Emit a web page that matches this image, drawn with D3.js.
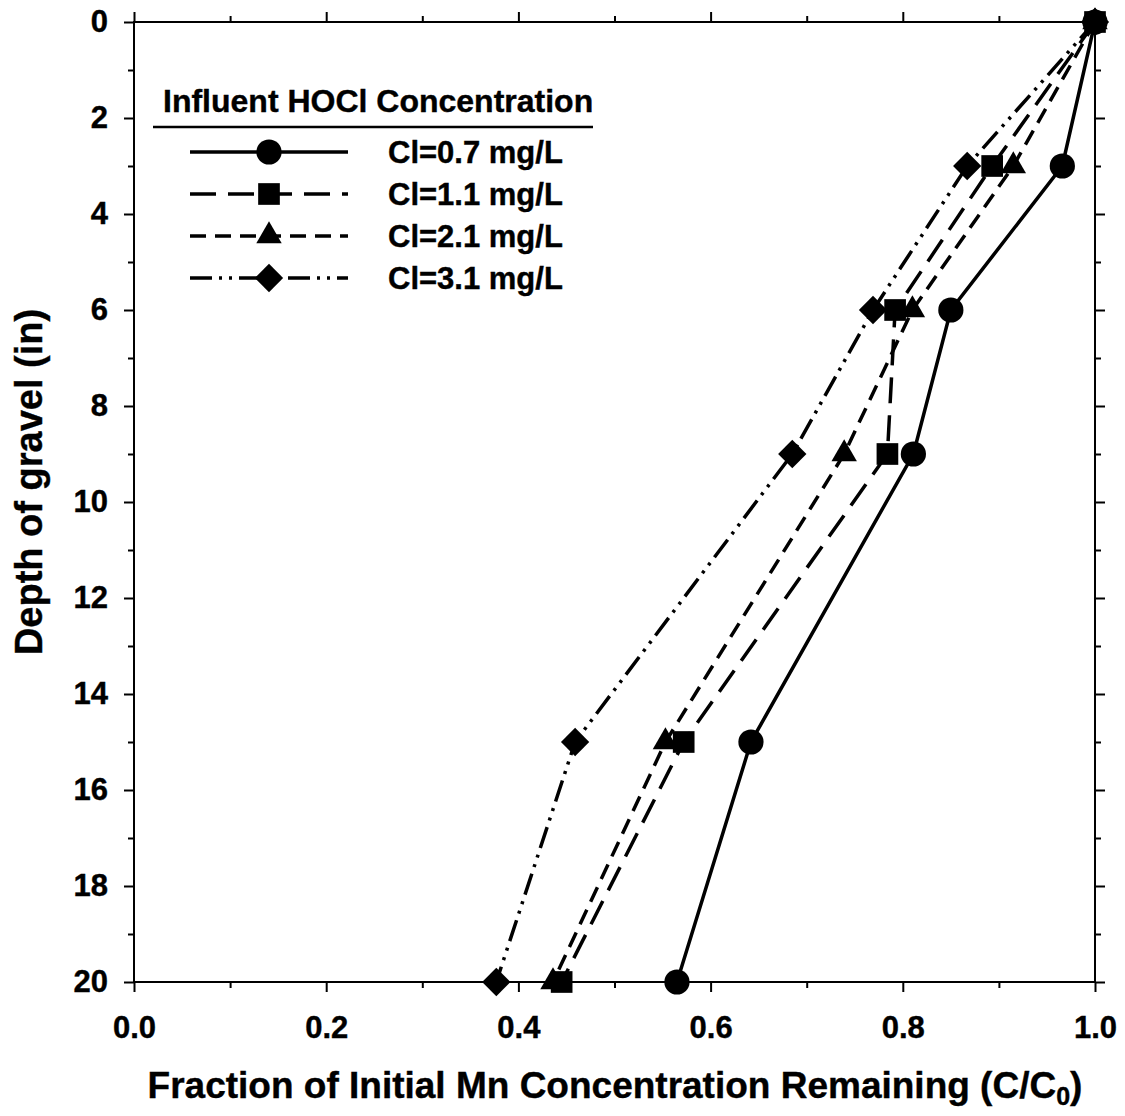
<!DOCTYPE html>
<html>
<head>
<meta charset="utf-8">
<script src="https://cdn.jsdelivr.net/npm/d3@7"></script>
<style>
  body { margin: 0; background: #fff; }
  svg text { font-family: "Liberation Sans", Arial, sans-serif; font-weight: bold; fill: #000; stroke: #000; stroke-width: 0.4; }
</style>
</head>
<body>
<div id="chart"></div>
<script>
// depth of gravel (in) and fraction remaining C/C0 for each chlorine dose
const depths = [0, 3, 6, 9, 15, 20];
const cl07 = [1.0, 0.966, 0.850, 0.811, 0.642, 0.565];
const cl11 = [1.0, 0.893, 0.792, 0.784, 0.572, 0.445];
const cl21 = [1.0, 0.915, 0.810, 0.739, 0.553, 0.436];
const cl31 = [1.0, 0.867, 0.769, 0.685, 0.459, 0.377];
const seriesLabels = ['Cl=0.7 mg/L', 'Cl=1.1 mg/L', 'Cl=2.1 mg/L', 'Cl=3.1 mg/L'];
const xMajor = [0, 0.2, 0.4, 0.6, 0.8, 1.0];
const xMinor = [0.1, 0.3, 0.5, 0.7, 0.9];
const yMajor = [0, 2, 4, 6, 8, 10, 12, 14, 16, 18, 20];
const yMinor = [1, 3, 5, 7, 9, 11, 13, 15, 17, 19];

const W = 1125, H = 1116;
const svg = d3.select('#chart').append('svg')
    .attr('width', W)
    .attr('height', H);

const x = d3.scaleLinear().domain([0, 1]).range([134, 1095]);
const y = d3.scaleLinear().domain([0, 20]).range([22, 982]);

// styles per series
const styles = [
    { dash: null, symbol: d3.symbolCircle, size: 500, rot: 0 },
    { dash: '26,12', symbol: d3.symbolSquare, size: 470, rot: 0 },
    { dash: '16,9', symbol: d3.symbolTriangle, size: 280, rot: 0 },
    { dash: '22,7,3,7,3,7', symbol: d3.symbolSquare, size: 400, rot: 45 }
];
const allSeries = [cl07, cl11, cl21, cl31];

// axes: major + minor ticks on all four sides
function drawAxis(gen, tx, ty, vals, size, fmt) {
    const g = svg.append('g')
        .attr('transform', `translate(${tx},${ty})`)
        .call(gen.tickValues(vals).tickSize(size).tickFormat(fmt));
    g.select('.domain').remove();
    g.selectAll('line').attr('stroke', '#000').attr('stroke-width', 2);
    return g;
}

const none = () => '';
drawAxis(d3.axisLeft(y).tickPadding(16), 134, 0, yMajor, 10, d3.format('d'));
drawAxis(d3.axisLeft(y), 134, 0, yMinor, 6, none);
drawAxis(d3.axisRight(y), 1095, 0, yMajor, 10, none);
drawAxis(d3.axisRight(y), 1095, 0, yMinor, 6, none);
drawAxis(d3.axisBottom(x).tickPadding(24), 0, 982, xMajor, 10, d3.format('.1f'));
drawAxis(d3.axisBottom(x), 0, 982, xMinor, 6, none);
drawAxis(d3.axisTop(x), 0, 22, xMajor, 10, none);
drawAxis(d3.axisTop(x), 0, 22, xMinor, 6, none);

svg.selectAll('.tick text')
    .attr('font-size', 31)
    .attr('font-family', '"Liberation Sans", Arial, sans-serif')
    .attr('font-weight', 'bold');

// frame
svg.append('rect')
    .attr('x', x(0)).attr('y', y(0))
    .attr('width', x(1) - x(0)).attr('height', y(20) - y(0))
    .attr('fill', 'none').attr('stroke', '#000').attr('stroke-width', 2);

// series lines
const line = d3.line()
    .x(d => x(d[0]))
    .y(d => y(d[1]));

allSeries.forEach((vals, i) => {
    const pts = vals.map((v, j) => [v, depths[j]]);
    svg.append('path')
        .datum(pts)
        .attr('d', line)
        .attr('fill', 'none')
        .attr('stroke', '#000')
        .attr('stroke-width', 3.5)
        .attr('stroke-dasharray', styles[i].dash);
});

// markers
allSeries.forEach((vals, i) => {
    const st = styles[i];
    svg.append('g').selectAll('path')
        .data(vals.map((v, j) => [v, depths[j]]))
        .join('path')
        .attr('d', d3.symbol().type(st.symbol).size(st.size))
        .attr('transform', d => `translate(${x(d[0])},${y(d[1])}) rotate(${st.rot})`)
        .attr('fill', '#000');
});

// legend
const legend = svg.append('g');
legend.append('text')
    .attr('x', 163).attr('y', 112)
    .attr('font-size', 32)
    .text('Influent HOCl Concentration');
legend.append('line')
    .attr('x1', 153).attr('x2', 593)
    .attr('y1', 127).attr('y2', 127)
    .attr('stroke', '#000').attr('stroke-width', 2.5);

seriesLabels.forEach((lab, i) => {
    const cy = 152 + i * 42;
    const st = styles[i];
    legend.append('line')
        .attr('x1', 190).attr('x2', 348)
        .attr('y1', cy).attr('y2', cy)
        .attr('stroke', '#000').attr('stroke-width', 3.5)
        .attr('stroke-dasharray', st.dash);
    legend.append('path')
        .attr('d', d3.symbol().type(st.symbol).size(st.size))
        .attr('transform', `translate(269,${cy}) rotate(${st.rot})`)
        .attr('fill', '#000');
    legend.append('text')
        .attr('x', 388).attr('y', cy + 11)
        .attr('font-size', 31)
        .text(lab);
});

// axis titles
svg.append('text')
    .attr('transform', 'translate(42,482) rotate(-90)')
    .attr('text-anchor', 'middle')
    .attr('font-size', 38)
    .text('Depth of gravel (in)');

const xt = svg.append('text')
    .attr('x', 615).attr('y', 1098)
    .attr('text-anchor', 'middle')
    .attr('font-size', 37);
xt.append('tspan').text('Fraction of Initial Mn Concentration Remaining (C/C');
xt.append('tspan').attr('font-size', 25).attr('dy', 7).text('0');
xt.append('tspan').attr('dy', -7).text(')');
</script>
</body>
</html>
